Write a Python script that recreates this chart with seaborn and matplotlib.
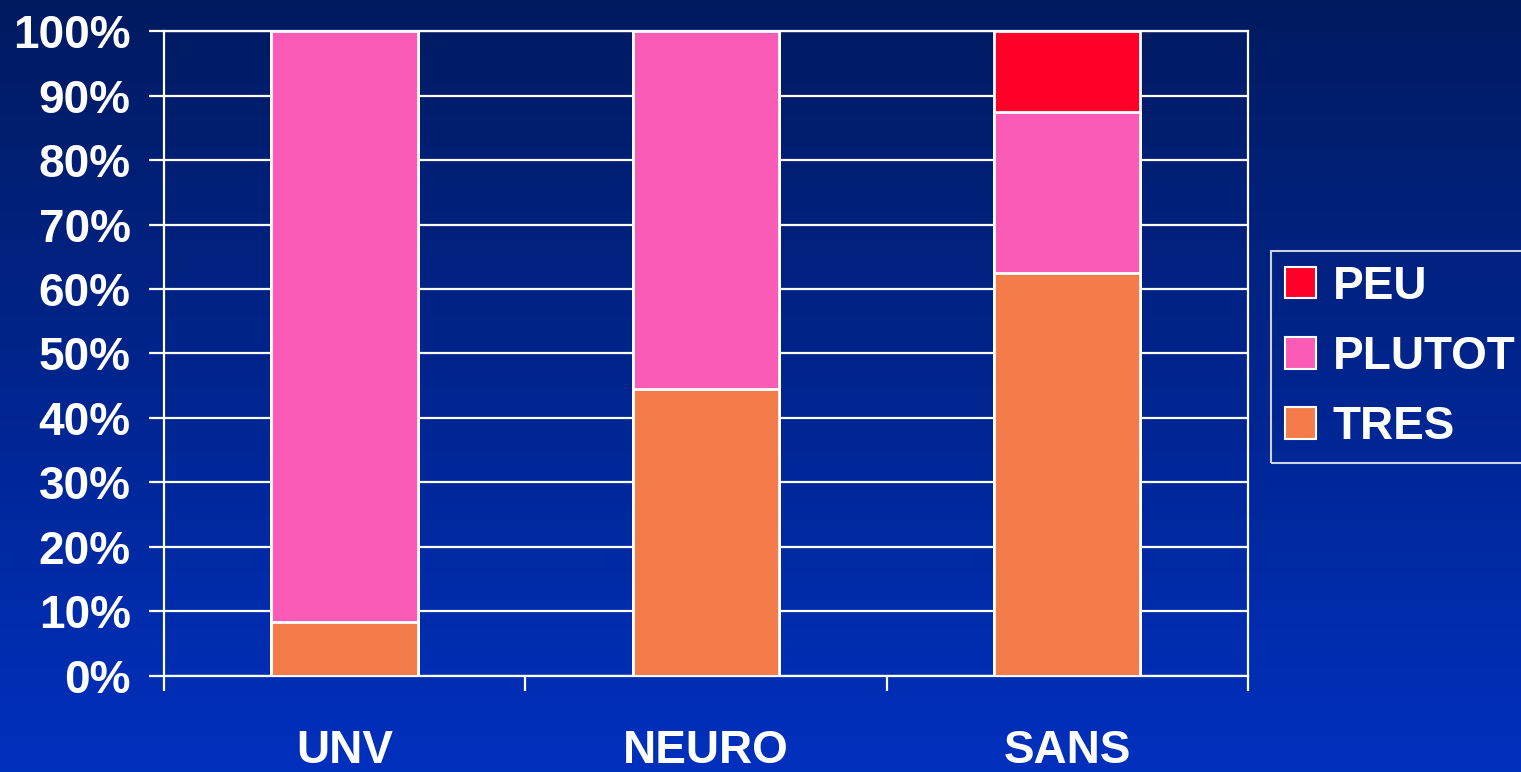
import numpy as np
import pandas as pd
import matplotlib
matplotlib.use("Agg")
import matplotlib.pyplot as plt
from matplotlib.patches import Patch
from matplotlib.colors import LinearSegmentedColormap
import seaborn as sns

# Share of answers per group (percent)
categories = ["UNV", "NEURO", "SANS"]
tres = [8.33, 44.44, 62.5]
plutot = [91.67, 55.56, 25.0]
peu = [0.0, 0.0, 12.5]
series_names = ["PEU", "PLUTOT", "TRES"]
y_ticks = [0, 10, 20, 30, 40, 50, 60, 70, 80, 90, 100]

colors = {"PEU": "#FF0029", "PLUTOT": "#F95BB6", "TRES": "#F47C4A"}

sns.set_theme(style="white")
plt.rcParams["font.family"] = ["Liberation Sans", "DejaVu Sans"]
plt.rcParams["font.weight"] = "bold"

fig = plt.figure(figsize=(15.21, 7.72), dpi=100)

# Vertical blue gradient behind everything
bg = fig.add_axes([0, 0, 1, 1], zorder=0)
grad = LinearSegmentedColormap.from_list("bg", ["#001A60", "#0030BE"])
bg.imshow(np.linspace(0, 1, 256).reshape(-1, 1), aspect="auto", cmap=grad,
          extent=[0, 1, 0, 1], origin="upper")
bg.set_axis_off()

ax = fig.add_axes([0.1078, 0.1244, 0.7127, 0.8354], zorder=1)
ax.patch.set_alpha(0)

df = pd.DataFrame({"cat": categories, "TRES": tres, "PLUTOT": plutot, "PEU": peu})
df["top_plutot"] = df["TRES"] + df["PLUTOT"]
df["top_peu"] = df["top_plutot"] + df["PEU"]

# Stacked bars drawn as overlapping cumulative totals
for col, name in [("top_peu", "PEU"), ("top_plutot", "PLUTOT"), ("TRES", "TRES")]:
    sns.barplot(data=df, x="cat", y=col, color=colors[name], width=0.405,
                edgecolor="white", linewidth=2, saturation=1, ax=ax, zorder=3)

ax.set_ylim(0, 100)
ax.set_xlim(-0.5, 2.5)
ax.set_yticks(y_ticks)
ax.set_yticklabels([f"{v}%" for v in y_ticks])
ax.set_xlabel("")
ax.set_ylabel("")

ax.yaxis.grid(True, color="white", linewidth=1.6, zorder=1)
ax.set_axisbelow(True)
for s in ax.spines.values():
    s.set_visible(True)
    s.set_color("white")
    s.set_linewidth(1.6)

ax.tick_params(axis="y", colors="white", labelsize=33, length=11, width=1.6,
               pad=13, left=True, direction="out")
ax.tick_params(axis="x", which="major", colors="white", labelsize=33, length=0, pad=38)
ax.set_xticks([-0.5, 0.5, 1.5, 2.5], minor=True)
ax.tick_params(axis="x", which="minor", colors="white", length=11, width=1.6,
               bottom=True, direction="out")
for lab in ax.get_xticklabels() + ax.get_yticklabels():
    lab.set_fontweight("bold")
    lab.set_color("white")

handles = [Patch(facecolor=colors[n], edgecolor="white", linewidth=1.5, label=n)
           for n in series_names]
leg = fig.legend(handles=handles, loc="upper left",
                 bbox_to_anchor=(1271 / 1521, 1 - 251 / 772),
                 bbox_transform=fig.transFigure, frameon=True, fontsize=33,
                 handlelength=0.68, handleheight=0.68, handletextpad=0.37,
                 labelspacing=0.57, borderpad=0.3, borderaxespad=0,
                 fancybox=False)
leg.get_frame().set_facecolor("none")
leg.get_frame().set_edgecolor("white")
leg.get_frame().set_linewidth(1.5)
for t in leg.get_texts():
    t.set_color("white")
    t.set_fontweight("bold")

fig.savefig("out.png", dpi=100)
